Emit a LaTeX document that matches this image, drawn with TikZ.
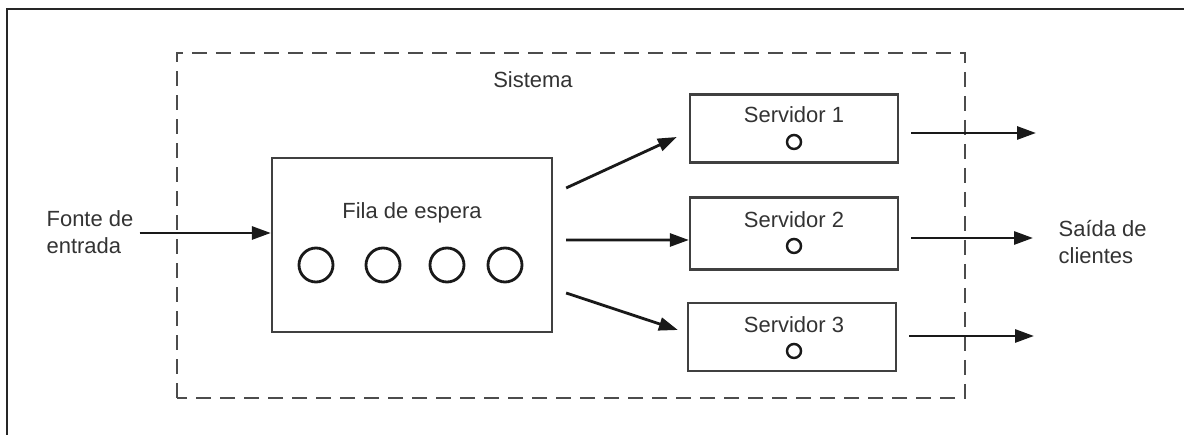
\documentclass[tikz,border=0pt]{standalone}
\usepackage{fontspec}
\setmainfont{Liberation Sans}
\usetikzlibrary{calc,arrows.meta}

\tikzset{
  txt/.style={text=black!80,font=\fontsize{12.5}{15}\selectfont},
  box/.style={draw=black!75,line width=1.3pt,rectangle},
  client/.style={draw=black!90,line width=1.6pt,circle,minimum size=0.68cm,inner sep=0pt},
  dot/.style={draw=black!90,line width=1.4pt,circle,minimum size=0.28cm,inner sep=0pt},
  flow/.style={line width=1.6pt,black!90,-{Triangle[length=0.38cm,width=0.26cm]}}
}

\begin{document}
\begin{tikzpicture}
  \useasboundingbox (0,0) rectangle (23.68,8.7);
  % frame of the figure
  \draw[line width=1.3pt,black!85] (0.14,0) -- (0.14,8.52) -- (23.68,8.52);

  % the system
  \draw[black!70,line width=1.4pt,dash pattern=on 0.3cm off 0.18cm] (3.54,0.74) rectangle (19.3,7.64);
  \node[txt] (sis) at (10.66,7.1) {Sistema};

  % queue
  \node[box,minimum width=5.6cm,minimum height=3.48cm] (fila) at (8.24,3.8) {};
  \node[txt] (filatxt) at (8.24,4.44) {Fila de espera};
  \node[client] (c1) at (6.32,3.4) {};
  \node[client] (c2) at (7.66,3.4) {};
  \node[client] (c3) at (8.94,3.4) {};
  \node[client] (c4) at (10.1,3.4) {};

  % servers
  \node[box,minimum width=4.16cm,minimum height=1.36cm] (s1) at (15.88,6.13) {};
  \node[box,minimum width=4.16cm,minimum height=1.44cm] (s2) at (15.88,4.03) {};
  \node[box,minimum width=4.16cm,minimum height=1.36cm] (s3) at (15.84,1.96) {};
  \node[txt] (s1txt) at (15.88,6.4) {Servidor 1};
  \node[txt] (s2txt) at (15.88,4.3) {Servidor 2};
  \node[txt] (s3txt) at (15.88,2.2) {Servidor 3};
  \node[dot] (d1) at (15.88,5.86) {};
  \node[dot] (d2) at (15.88,3.78) {};
  \node[dot] (d3) at (15.88,1.68) {};

  % input and output
  \node[txt,align=left] (fonte) at (1.8,4.06) {Fonte de\\entrada};
  \node[txt,align=left,anchor=west] (saida) at (21.05,3.86) {Saída de\\clientes};

  \draw[flow] (fonte.east |- 0,4.04) -- (fila.west |- 0,4.04);
  \draw[flow] ($(fila.east)+(0.26,1.14)$) -- ($(s1.west)+(-0.24,-0.17)$);
  \draw[flow] ($(fila.east)+(0.26,0.1)$) -- ($(s2.west)+(0,-0.13)$);
  \draw[flow] ($(fila.east)+(0.26,-0.96)$) -- ($(s3.west)+(-0.18,0.14)$);

  \coordinate (o1) at (20.72,6.04);
  \coordinate (o2) at (20.66,3.94);
  \coordinate (o3) at (20.68,1.98);
  \draw[flow] (s1.east |- o1) ++(0.24,0) -- (o1);
  \draw[flow] (s2.east |- o2) ++(0.24,0) -- (o2);
  \draw[flow] (s3.east |- o3) ++(0.24,0) -- (o3);
\end{tikzpicture}
\end{document}
